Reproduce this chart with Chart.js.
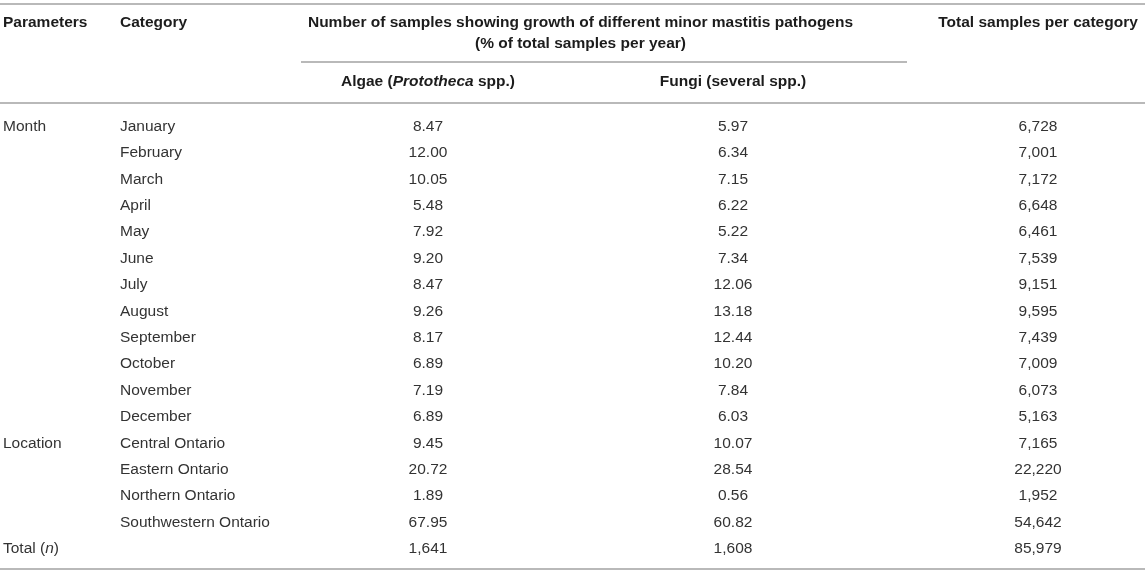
<!DOCTYPE html>
<html>
<head>
<meta charset="utf-8">
<title>Minor mastitis pathogens</title>
<script src="https://cdn.jsdelivr.net/npm/chart.js@4/dist/chart.umd.min.js"></script>
<style>
  html, body { margin: 0; padding: 0; background: #fff; }
  #wrap { position: relative; width: 1145px; height: 574px; }
</style>
</head>
<body>
<div id="wrap"><canvas id="tabla"></canvas></div>
<script>
/* Tabla de patógenos menores (algas / hongos) dibujada sobre escalas de Chart.js */

// ── Datos ─────────────────────────────────────────────────────────────────────
const MONTHS = ['January', 'February', 'March', 'April', 'May', 'June', 'July',
  'August', 'September', 'October', 'November', 'December'];
const LOCATIONS = ['Central Ontario', 'Eastern Ontario', 'Northern Ontario', 'Southwestern Ontario'];

const ALGAE_PCT = [8.47, 12.00, 10.05, 5.48, 7.92, 9.20, 8.47, 9.26, 8.17, 6.89, 7.19, 6.89,
  9.45, 20.72, 1.89, 67.95];
const FUNGI_PCT = [5.97, 6.34, 7.15, 6.22, 5.22, 7.34, 12.06, 13.18, 12.44, 10.20, 7.84, 6.03,
  10.07, 28.54, 0.56, 60.82];
const SAMPLES = [6728, 7001, 7172, 6648, 6461, 7539, 9151, 9595, 7439, 7009, 6073, 5163,
  7165, 22220, 1952, 54642];
const TOTAL_N = [1641, 1608, 85979]; // algas, hongos, muestras

const COLUMNS = ['algae', 'fungi', 'total'];
const ROWS = [...MONTHS, ...LOCATIONS, 'Total'];

// ── Estilo ────────────────────────────────────────────────────────────────────
const FONT = "'Liberation Sans', Arial, Helvetica, sans-serif";
const SIZE = 15.5;
const INK_HEAD = '#1c1c1c';
const INK_BODY = '#333333';
const RULE = '#b9b9b9';

const pct = v => v.toFixed(2);
const num = v => v.toLocaleString('en-US');

function cellTexts(pctArr, total, fmt) {
  return [...pctArr.map(fmt), num(total)];
}

// texto con trozos en cursiva, centrado en cx
function mixedText(ctx, parts, cx, cy, bold, align) {
  const fontOf = it => `${it ? 'italic ' : ''}${bold ? 'bold ' : ''}${SIZE}px ${FONT}`;
  let w = 0;
  parts.forEach(p => { ctx.font = fontOf(p[1]); w += ctx.measureText(p[0]).width; });
  let x = align === 'left' ? cx : cx - w / 2;
  ctx.textAlign = 'left';
  parts.forEach(p => {
    ctx.font = fontOf(p[1]);
    ctx.fillText(p[0], x, cy);
    x += ctx.measureText(p[0]).width;
  });
}

function hRule(ctx, x0, x1, y) {
  ctx.beginPath();
  ctx.moveTo(x0, y);
  ctx.lineTo(x1, y);
  ctx.stroke();
}

const tablePlugin = {
  id: 'tablePlugin',
  afterDatasetsDraw(chart) {
    const { ctx, width, scales: { x, y } } = chart;
    ctx.save();
    ctx.textBaseline = 'middle';

    // líneas
    ctx.strokeStyle = RULE;
    ctx.lineWidth = 1.8;
    hRule(ctx, 0, width, 4);
    hRule(ctx, 301, 907, 62);
    hRule(ctx, 0, width, 103);
    hRule(ctx, 0, width, 569);

    // cabecera
    ctx.fillStyle = INK_HEAD;
    const xA = x.getPixelForValue(0), xF = x.getPixelForValue(1), xT = x.getPixelForValue(2);
    const spanC = (xA + xF) / 2;
    mixedText(ctx, [['Parameters', false]], 3, 23, true, 'left');
    mixedText(ctx, [['Category', false]], 120, 23, true, 'left');
    mixedText(ctx, [['Number of samples showing growth of different minor mastitis pathogens', false]], spanC, 23, true);
    mixedText(ctx, [['(% of total samples per year)', false]], spanC, 44, true);
    mixedText(ctx, [['Total samples per category', false]], xT, 23, true);
    mixedText(ctx, [['Algae (', false], ['Prototheca', true], [' spp.)', false]], xA, 82, true);
    mixedText(ctx, [['Fungi (several spp.)', false]], xF, 82, true);

    // columnas de texto
    ctx.fillStyle = INK_BODY;
    ROWS.forEach((r, i) => {
      const py = y.getPixelForValue(i);
      if (i < MONTHS.length + LOCATIONS.length) {
        mixedText(ctx, [[r, false]], 120, py, false, 'left');
      }
    });
    mixedText(ctx, [['Month', false]], 3, y.getPixelForValue(0), false, 'left');
    mixedText(ctx, [['Location', false]], 3, y.getPixelForValue(MONTHS.length), false, 'left');
    mixedText(ctx, [['Total (', false], ['n', true], [')', false]], 3, y.getPixelForValue(ROWS.length - 1), false, 'left');

    // celdas numéricas
    ctx.font = `${SIZE}px ${FONT}`;
    ctx.textAlign = 'center';
    chart.data.datasets.forEach((ds, di) => {
      chart.getDatasetMeta(di).data.forEach((pt, i) => {
        ctx.fillText(ds.cells[i], pt.x, pt.y);
      });
    });
    ctx.restore();
  },
};

const colData = col => ROWS.map(r => ({ x: col, y: r }));

new Chart(document.getElementById('tabla'), {
  type: 'scatter',
  data: {
    datasets: [
      { label: 'Algae', data: colData('algae'), cells: cellTexts(ALGAE_PCT, TOTAL_N[0], pct) },
      { label: 'Fungi', data: colData('fungi'), cells: cellTexts(FUNGI_PCT, TOTAL_N[1], pct) },
      { label: 'Total', data: colData('total'), cells: [...SAMPLES.map(num), num(TOTAL_N[2])] },
    ],
  },
  options: {
    responsive: true,
    maintainAspectRatio: false,
    animation: false,
    events: [],
    elements: { point: { radius: 0, hoverRadius: 0 } },
    layout: { padding: { left: 428, right: 107, top: 113.3, bottom: 11.9 } },
    plugins: { legend: { display: false }, tooltip: { enabled: false } },
    scales: {
      x: { type: 'category', labels: COLUMNS, offset: false, display: false },
      y: { type: 'category', labels: ROWS, offset: true, display: false },
    },
  },
  plugins: [tablePlugin],
});
</script>
</body>
</html>
